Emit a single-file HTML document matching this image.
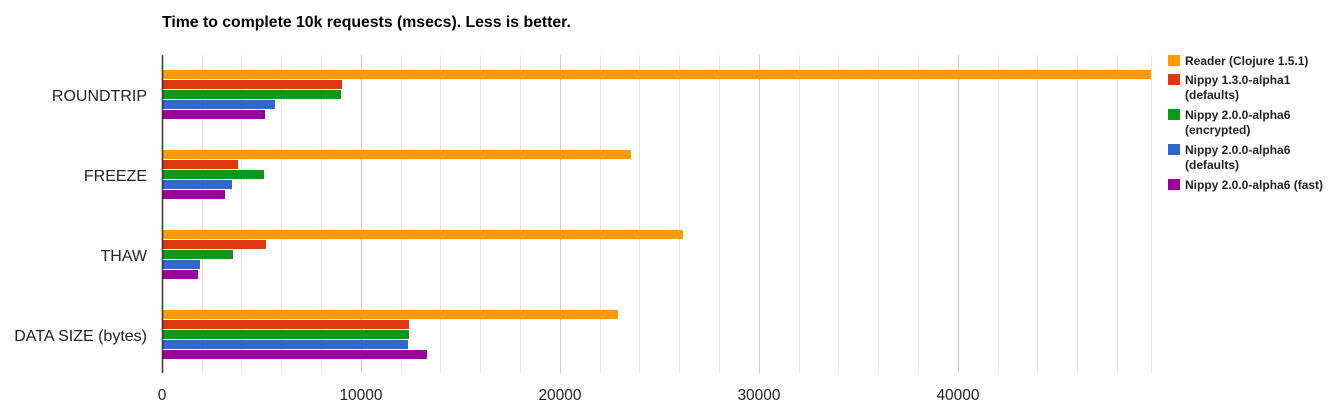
<!DOCTYPE html>
<html><head><style>
body{margin:0;background:#fff;width:1332px;height:414px;overflow:hidden;font-family:"Liberation Sans",Arial,sans-serif;}
</style></head><body>
<svg width="1332" height="414" xmlns="http://www.w3.org/2000/svg" font-family="Liberation Sans, Arial, sans-serif">
<text x="162" y="27" font-size="15.8" font-weight="bold" fill="#000">Time to complete 10k requests (msecs). Less is better.</text>
<g stroke-width="1">
<line x1="202.5" y1="55" x2="202.5" y2="373" stroke="#e6e6e6"/>
<line x1="241.5" y1="55" x2="241.5" y2="373" stroke="#e6e6e6"/>
<line x1="281.5" y1="55" x2="281.5" y2="373" stroke="#e6e6e6"/>
<line x1="321.5" y1="55" x2="321.5" y2="373" stroke="#e6e6e6"/>
<line x1="361.5" y1="55" x2="361.5" y2="373" stroke="#ccc"/>
<line x1="401.5" y1="55" x2="401.5" y2="373" stroke="#e6e6e6"/>
<line x1="440.5" y1="55" x2="440.5" y2="373" stroke="#e6e6e6"/>
<line x1="480.5" y1="55" x2="480.5" y2="373" stroke="#e6e6e6"/>
<line x1="520.5" y1="55" x2="520.5" y2="373" stroke="#e6e6e6"/>
<line x1="560.5" y1="55" x2="560.5" y2="373" stroke="#ccc"/>
<line x1="600.5" y1="55" x2="600.5" y2="373" stroke="#e6e6e6"/>
<line x1="639.5" y1="55" x2="639.5" y2="373" stroke="#e6e6e6"/>
<line x1="679.5" y1="55" x2="679.5" y2="373" stroke="#e6e6e6"/>
<line x1="719.5" y1="55" x2="719.5" y2="373" stroke="#e6e6e6"/>
<line x1="759.5" y1="55" x2="759.5" y2="373" stroke="#ccc"/>
<line x1="799.5" y1="55" x2="799.5" y2="373" stroke="#e6e6e6"/>
<line x1="838.5" y1="55" x2="838.5" y2="373" stroke="#e6e6e6"/>
<line x1="878.5" y1="55" x2="878.5" y2="373" stroke="#e6e6e6"/>
<line x1="918.5" y1="55" x2="918.5" y2="373" stroke="#e6e6e6"/>
<line x1="958.5" y1="55" x2="958.5" y2="373" stroke="#ccc"/>
<line x1="998.5" y1="55" x2="998.5" y2="373" stroke="#e6e6e6"/>
<line x1="1037.5" y1="55" x2="1037.5" y2="373" stroke="#e6e6e6"/>
<line x1="1077.5" y1="55" x2="1077.5" y2="373" stroke="#e6e6e6"/>
<line x1="1117.5" y1="55" x2="1117.5" y2="373" stroke="#e6e6e6"/>
<line x1="1151.5" y1="55" x2="1151.5" y2="373" stroke="#e6e6e6"/>
</g>
<g>
<rect x="163" y="70" width="988" height="9" fill="#ff9900"/>
<rect x="163" y="80" width="179" height="9" fill="#dc3912"/>
<rect x="163" y="90" width="178" height="9" fill="#109618"/>
<rect x="163" y="100" width="112" height="9" fill="#3366cc"/>
<rect x="163" y="110" width="102" height="9" fill="#990099"/>

<rect x="163" y="150" width="468" height="9" fill="#ff9900"/>
<rect x="163" y="160" width="75" height="9" fill="#dc3912"/>
<rect x="163" y="170" width="101" height="9" fill="#109618"/>
<rect x="163" y="180" width="69" height="9" fill="#3366cc"/>
<rect x="163" y="190" width="62" height="9" fill="#990099"/>

<rect x="163" y="230" width="520" height="9" fill="#ff9900"/>
<rect x="163" y="240" width="103" height="9" fill="#dc3912"/>
<rect x="163" y="250" width="70" height="9" fill="#109618"/>
<rect x="163" y="260" width="37" height="9" fill="#3366cc"/>
<rect x="163" y="270" width="35" height="9" fill="#990099"/>

<rect x="163" y="310" width="455" height="9" fill="#ff9900"/>
<rect x="163" y="320" width="246" height="9" fill="#dc3912"/>
<rect x="163" y="330" width="246" height="9" fill="#109618"/>
<rect x="163" y="340" width="245" height="9" fill="#3366cc"/>
<rect x="163" y="350" width="264" height="9" fill="#990099"/>
</g>
<line x1="162.5" y1="55" x2="162.5" y2="373" stroke="#333" stroke-width="1.5"/>
<g font-size="16" fill="#222" text-anchor="end">
<text x="147" y="101">ROUNDTRIP</text>
<text x="147" y="181">FREEZE</text>
<text x="147" y="261">THAW</text>
<text x="147" y="341">DATA SIZE (bytes)</text>
</g>
<g font-size="15.5" fill="#222" text-anchor="middle">
<text x="162" y="400">0</text>
<text x="361" y="400">10000</text>
<text x="560" y="400">20000</text>
<text x="759" y="400">30000</text>
<text x="958" y="400">40000</text>
</g>
<g font-size="12" font-weight="bold" fill="#222">
<rect x="1168" y="55" width="12" height="11" fill="#ff9900"/>
<text x="1185" y="65">Reader (Clojure 1.5.1)</text>
<rect x="1168" y="74" width="12" height="11" fill="#dc3912"/>
<text x="1185" y="84">Nippy 1.3.0-alpha1</text>
<text x="1185" y="99">(defaults)</text>
<rect x="1168" y="109" width="12" height="11" fill="#109618"/>
<text x="1185" y="119">Nippy 2.0.0-alpha6</text>
<text x="1185" y="134">(encrypted)</text>
<rect x="1168" y="144" width="12" height="11" fill="#3366cc"/>
<text x="1185" y="154">Nippy 2.0.0-alpha6</text>
<text x="1185" y="169">(defaults)</text>
<rect x="1168" y="179" width="12" height="11" fill="#990099"/>
<text x="1185" y="189">Nippy 2.0.0-alpha6 (fast)</text>
</g>
</svg>
</body></html>
